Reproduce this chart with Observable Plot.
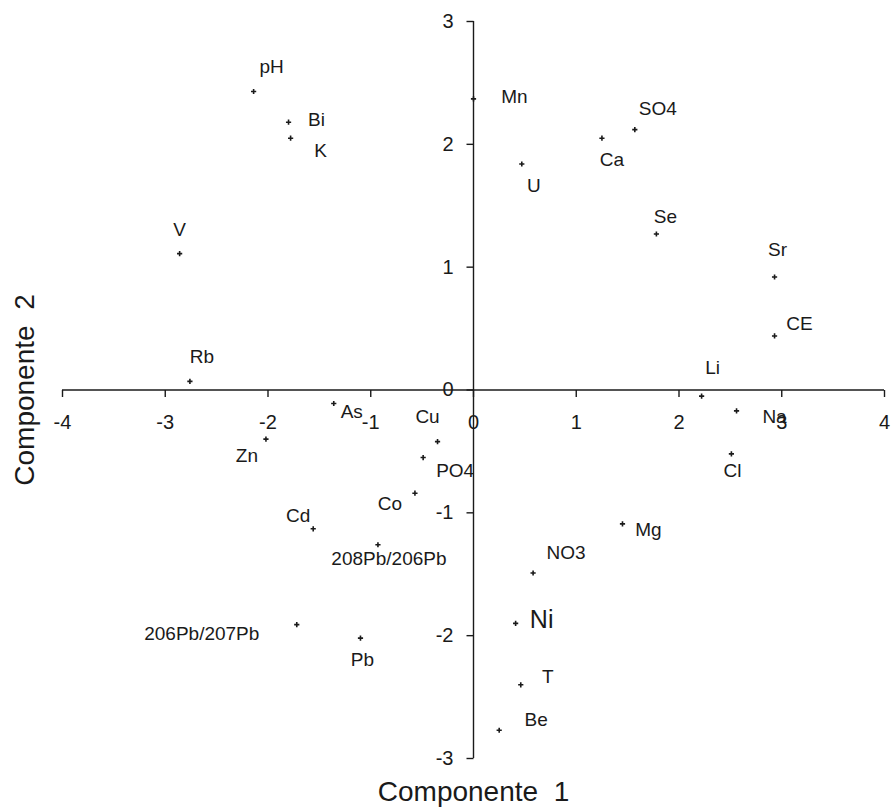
<!DOCTYPE html>
<html><head><meta charset="utf-8">
<script src="https://cdn.jsdelivr.net/npm/d3@7"></script>
<script src="https://cdn.jsdelivr.net/npm/@observablehq/plot@0.6"></script>
<style>body{margin:0;background:#fff}</style>
</head><body><div id="chart"></div>
<script>
// ---- data ----
const names = ["pH","Bi","K","V","Rb","Mn","U","Ca","SO4","Se","Sr","CE","Li","Na","Cl",
  "As","Zn","Cu","PO4","Co","Cd","208Pb/206Pb","206Pb/207Pb","Pb","Mg","NO3","Ni","T","Be"];
const comp1 = [-2.14,-1.80,-1.78,-2.86,-2.76,0.00,0.47,1.25,1.57,1.78,2.93,2.93,2.22,2.56,2.51,
  -1.36,-2.02,-0.35,-0.49,-0.57,-1.56,-0.93,-1.72,-1.10,1.45,0.58,0.41,0.46,0.25];
const comp2 = [2.43,2.18,2.05,1.11,0.07,2.37,1.84,2.05,2.12,1.27,0.92,0.44,-0.05,-0.17,-0.52,
  -0.11,-0.40,-0.42,-0.55,-0.84,-1.13,-1.26,-1.91,-2.02,-1.09,-1.49,-1.90,-2.40,-2.77];
const xTicks = [-4,-3,-2,-1,0,1,2,3,4];
const xTickLabels = ["-4","-3","-2","-1","0","1","2","3","4"];
const yTicks = [-3,-2,-1,0,1,2,3];
const yTickLabels = ["-3","-2","-1","0","1","2","3"];
const xTitle = "Componente\u00a0 1";
const yTitle = "Componente\u00a0 2";

// ---- label placement (pixel offsets from each point) ----
const labelOffset = {
  "pH":[18,-25],"Bi":[28,-2],"K":[30,13],"V":[0,-24],"Rb":[12,-24],"Mn":[41,-2],
  "U":[12,22],"Ca":[10,22],"SO4":[23,-21],"Se":[9,-17],"Sr":[3,-27],"CE":[25,-12],
  "Li":[11,-28],"Na":[38,6],"Cl":[1,17],"As":[18,8],"Zn":[-19,17],"Cu":[-10,-25],
  "PO4":[32,13],"Co":[-25,11],"Cd":[-15,-13],"208Pb/206Pb":[11,14],"206Pb/207Pb":[-95,9],
  "Pb":[2,22],"Mg":[26,6],"NO3":[33,-20],"Ni":[26,-3],"T":[27,-8],"Be":[37,-10]
};
const labelSize = {"Ni":25};

const data = names.map((n,i)=>({name:n, c1:comp1[i], c2:comp2[i]}));
const ink = "#1a1a1a";
const tickDown = {draw(ctx){ctx.moveTo(0,0); ctx.lineTo(0,7);}};
const tickLeft = {draw(ctx){ctx.moveTo(0,0); ctx.lineTo(-7,0);}};
const smallPlus = {draw(ctx){ctx.moveTo(-2.6,0); ctx.lineTo(2.6,0); ctx.moveTo(0,-2.6); ctx.lineTo(0,2.6);}};

const labelMarks = data.map(d => Plot.text([d], {
  x:"c1", y:"c2", text:"name",
  dx: labelOffset[d.name][0], dy: labelOffset[d.name][1],
  fontSize: labelSize[d.name] || 19, fill: ink
}));

const chart = Plot.plot({
  width: 896, height: 807,
  marginLeft: 62, marginRight: 12, marginTop: 21, marginBottom: 49,
  style: {fontFamily: "'Liberation Sans', Arial, sans-serif", background: "#fff", color: ink},
  x: {domain: [-4,4], axis: null},
  y: {domain: [-3,3], axis: null},
  marks: [
    Plot.ruleY([0], {x1: -4, x2: 4, stroke: ink, strokeWidth: 1.4}),
    Plot.ruleX([0], {y1: -3, y2: 3, stroke: ink, strokeWidth: 1.4}),
    Plot.dot(xTicks, {x: d => d, y: 0, symbol: tickDown, fill: "none", stroke: ink, strokeWidth: 1.4}),
    Plot.dot(yTicks, {x: 0, y: d => d, symbol: tickLeft, fill: "none", stroke: ink, strokeWidth: 1.4}),
    Plot.text(xTicks, {x: d => d, y: 0, text: (d,i) => xTickLabels[i], dy: 33, fontSize: 20, fill: ink}),
    Plot.text(yTicks, {x: 0, y: d => d, text: (d,i) => yTickLabels[i], dx: -20, textAnchor: "end", fontSize: 20, fill: ink}),
    Plot.dot(data, {x: "c1", y: "c2", symbol: smallPlus, fill: "none", stroke: ink, strokeWidth: 1.6}),
    ...labelMarks,
    Plot.text([xTitle], {frameAnchor: "bottom", dy: 34, textAnchor: "middle", lineAnchor: "middle", fontSize: 28, fill: ink}),
    Plot.text([yTitle], {frameAnchor: "left", dx: -37, rotate: -90, textAnchor: "middle", lineAnchor: "middle", fontSize: 28, fill: ink})
  ]
});
document.getElementById("chart").appendChild(chart);
</script>
</body></html>
